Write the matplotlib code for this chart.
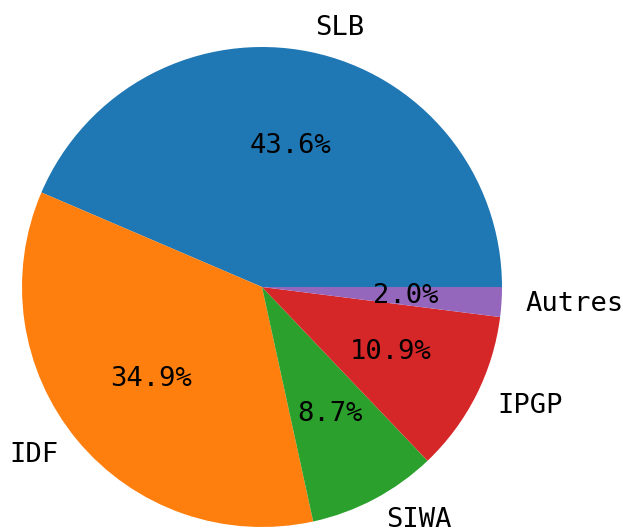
import matplotlib
matplotlib.use("Agg")
import matplotlib.pyplot as plt

labels = ["SLB", "IDF", "SIWA", "IPGP", "Autres"]
values = [43.6, 34.9, 8.7, 10.9, 2.0]
colors = ["#1f77b4", "#ff7f0e", "#2ca02c", "#d62728", "#9467bd"]

plt.rcParams['font.family'] = ['DejaVu Sans Mono']
fig = plt.figure(figsize=(6.23, 5.28), dpi=100)
ax = fig.add_axes([22/623, 1/528, 480/623, 480/528])
ax.pie(values, labels=labels, colors=colors, autopct='%1.1f%%',
       textprops={'fontsize': 19.5})
ax.set_xlim(-1, 1)
ax.set_ylim(-1, 1)
ax.set_aspect('equal')
fig.savefig("out.png", dpi=100)
